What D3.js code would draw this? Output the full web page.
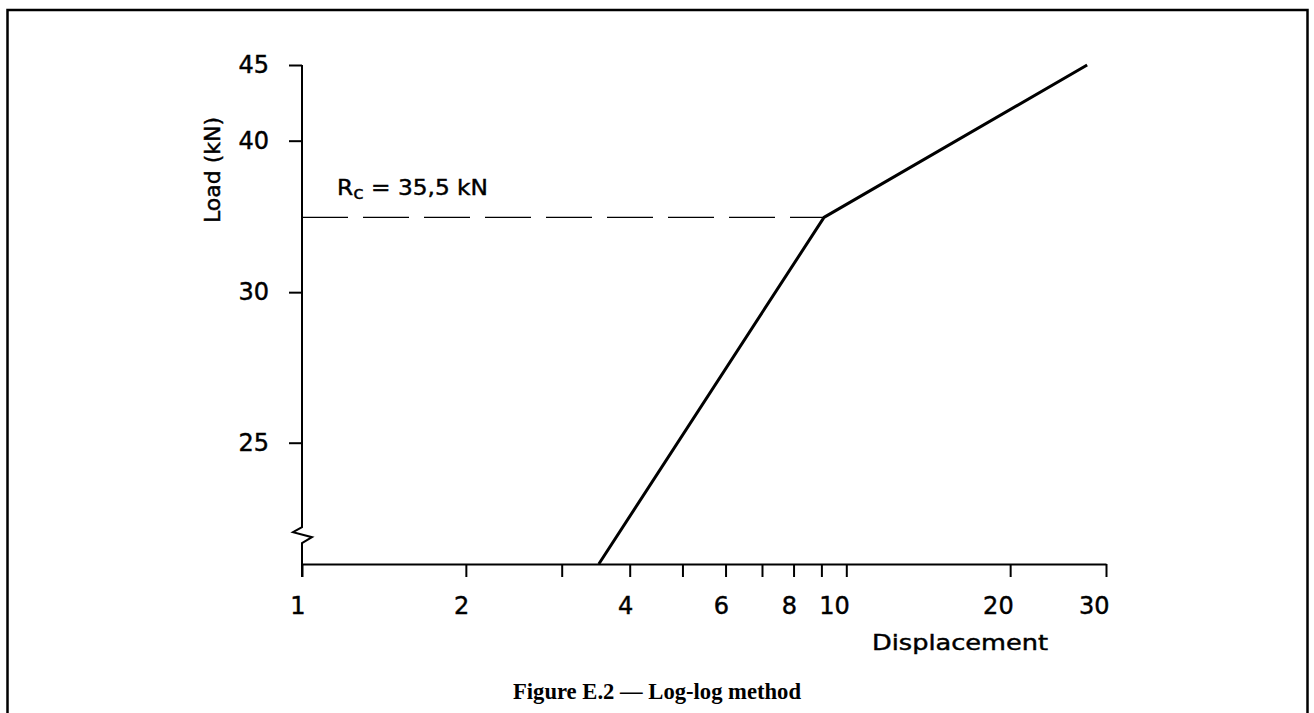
<!DOCTYPE html>
<html>
<head>
<meta charset="utf-8">
<script src="https://cdn.jsdelivr.net/npm/d3@7"></script>
<style>
  body { margin: 0; background: #fff; }
  text { font-family: "DejaVu Sans", sans-serif; fill: #000; }
  .heavy { stroke: #000; stroke-width: 0.45px; }
</style>
</head>
<body>
<svg id="chart" width="1314" height="713"></svg>
<script>
// Values (both axes logarithmic)
const displacement = [3.51, 9.1, 27.7];
const load = [20.7, 35.5, 45];

const xTickValues = [1, 2, 3, 4, 5, 6, 7, 8, 9, 10, 20, 30];
const xTickLabels = [1, 2, 4, 6, 8, 10, 20, 30];

// the printed "30" tick sits a little above where 30 falls on the log scale
const yTickValues = [25, 31.6, 40, 45];
const yTickLabels = ["25", "30", "40", "45"];

const rc = 35.5;          // R_c, kN
const loadFloor = 20.7;   // bottom of the broken axis
const loadBreak = 21.65;  // where the break mark sits

const svg = d3.select("#chart");
const margin = { top: 65, right: 208, bottom: 149, left: 302 };
const W = 1314, H = 713;

const x = d3.scaleLog().domain([1, 30]).range([margin.left, W - margin.right]);
const y = d3.scaleLog().domain([loadFloor, 45]).range([H - margin.bottom, margin.top]);

// frame
svg.append("rect")
  .attr("x", 7.5).attr("y", 10)
  .attr("width", 1300).attr("height", 720)
  .attr("fill", "none").attr("stroke", "#000").attr("stroke-width", 2.5);

// x axis
const xAxis = svg.append("g")
  .attr("transform", `translate(0,${y(loadFloor)})`)
  .call(d3.axisBottom(x)
    .tickValues(xTickValues)
    .tickSizeInner(13).tickSizeOuter(0).tickPadding(20)
    .tickFormat(d => xTickLabels.includes(d) ? d : ""));
xAxis.select(".domain").attr("stroke-width", 2);
xAxis.selectAll(".tick line").attr("stroke-width", 2);
xAxis.selectAll(".tick text")
  .attr("class", "heavy")
  .attr("text-anchor", "end").attr("dx", 3)
  .style("font-size", "24px").style("font-family", "DejaVu Sans");

// y axis (ticks from d3, spine drawn by hand because of the break mark)
const yAxis = svg.append("g")
  .attr("transform", `translate(${x(1)},0)`)
  .call(d3.axisLeft(y)
    .tickValues(yTickValues)
    .tickSizeInner(13).tickSizeOuter(0).tickPadding(20)
    .tickFormat((d, i) => yTickLabels[i]));
yAxis.select(".domain").remove();
yAxis.selectAll(".tick line").attr("stroke-width", 2);
yAxis.selectAll(".tick text")
  .attr("class", "heavy")
  .style("font-size", "24px").style("font-family", "DejaVu Sans");

const x0 = x(1), yb = y(loadBreak);
svg.append("path")
  .attr("d", d3.line()([
    [x0, y(45)], [x0, yb - 8], [x0 - 9, yb - 3], [x0 + 10, yb + 2],
    [x0, yb + 8], [x0, y(loadFloor) + 13]
  ]))
  .attr("fill", "none").attr("stroke", "#000").attr("stroke-width", 2);

// R_c dashed line
svg.append("line")
  .attr("x1", x(1)).attr("x2", x(displacement[1]))
  .attr("y1", y(rc)).attr("y2", y(rc))
  .attr("stroke", "#000").attr("stroke-width", 1.3)
  .attr("stroke-dasharray", "46,15");

// load-displacement line
const pts = displacement.map((d, i) => [x(d), y(load[i])]);
svg.append("path")
  .attr("d", d3.line()(pts))
  .attr("fill", "none").attr("stroke", "#000")
  .attr("stroke-width", 3).attr("stroke-linejoin", "round");

// R_c label
const rcLabel = svg.append("text")
  .attr("class", "heavy")
  .attr("x", x(1) + 35).attr("y", y(rc) - 22)
  .attr("textLength", 151).attr("lengthAdjust", "spacingAndGlyphs")
  .style("font-size", "22px");
rcLabel.append("tspan").text("R");
rcLabel.append("tspan").attr("dy", 4).style("font-size", "18px").text("c");
rcLabel.append("tspan").attr("dy", -4).text(" = 35,5 kN");

// axis titles
svg.append("text")
  .attr("class", "heavy")
  .attr("transform", "translate(220,170) rotate(-90)")
  .attr("text-anchor", "middle")
  .style("font-size", "22px")
  .text("Load (kN)");

svg.append("text")
  .attr("class", "heavy")
  .attr("x", 872).attr("y", 650)
  .attr("textLength", 176).attr("lengthAdjust", "spacingAndGlyphs")
  .style("font-size", "21px")
  .text("Displacement");

// caption
svg.append("text")
  .attr("x", W / 2).attr("y", 699)
  .attr("text-anchor", "middle")
  .attr("textLength", 288).attr("lengthAdjust", "spacingAndGlyphs")
  .style("font-family", "'Liberation Serif', serif")
  .style("font-weight", "bold")
  .style("font-size", "24px")
  .text("Figure E.2 — Log-log method");
</script>
</body>
</html>
